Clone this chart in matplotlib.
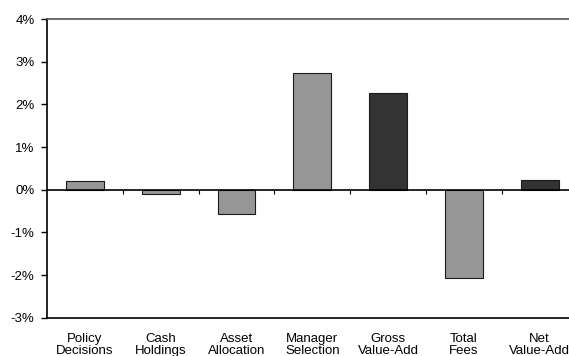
import numpy as np
import matplotlib.pyplot as plt

plt.rcParams['font.family'] = ['Liberation Sans', 'DejaVu Sans']

categories = ['Policy\nDecisions', 'Cash\nHoldings', 'Asset\nAllocation', 'Manager\nSelection',
              'Gross\nValue-Add', 'Total\nFees', 'Net\nValue-Add']
values = [0.21, -0.09, -0.58, 2.74, 2.27, -2.06, 0.22]
totals = [False, False, False, False, True, False, True]

fig = plt.figure(figsize=(5.69, 3.56), dpi=100)
# axes runs a little past the right edge of the picture, as in the original
ax = fig.add_axes([47 / 569, 38.3 / 356, 530.6 / 569, 298.7 / 356])

x = np.arange(len(categories))
colors = ['#333333' if t else '#969696' for t in totals]
ax.bar(x, values, width=0.5, color=colors, edgecolor='#1a1a1a', linewidth=0.8, zorder=2)

# zero line with small ticks between categories
ax.axhline(0, color='black', linewidth=1.2, zorder=3)
ax.vlines(x[:-1] + 0.5, -0.1, 0, color='black', linewidth=0.8, zorder=3)

ax.set_xlim(-0.5, len(categories) - 0.5)
ax.set_ylim(-3, 4)
ax.set_yticks(range(-3, 5))
ax.set_yticklabels([f'{v}%' for v in range(-3, 5)], fontsize=9.5)
ax.set_xticks(x)
ax.set_xticklabels(categories, fontsize=9.5, linespacing=1.05)
ax.tick_params(axis='x', length=0, pad=11)
ax.tick_params(axis='y', length=4, width=1, direction='out', pad=5)

ax.spines['right'].set_visible(False)
ax.spines['left'].set_linewidth(1.2)
ax.spines['bottom'].set_linewidth(1.2)
ax.spines['top'].set_color('#555555')
ax.spines['top'].set_linewidth(1.2)

fig.savefig('out.png', dpi=100)
